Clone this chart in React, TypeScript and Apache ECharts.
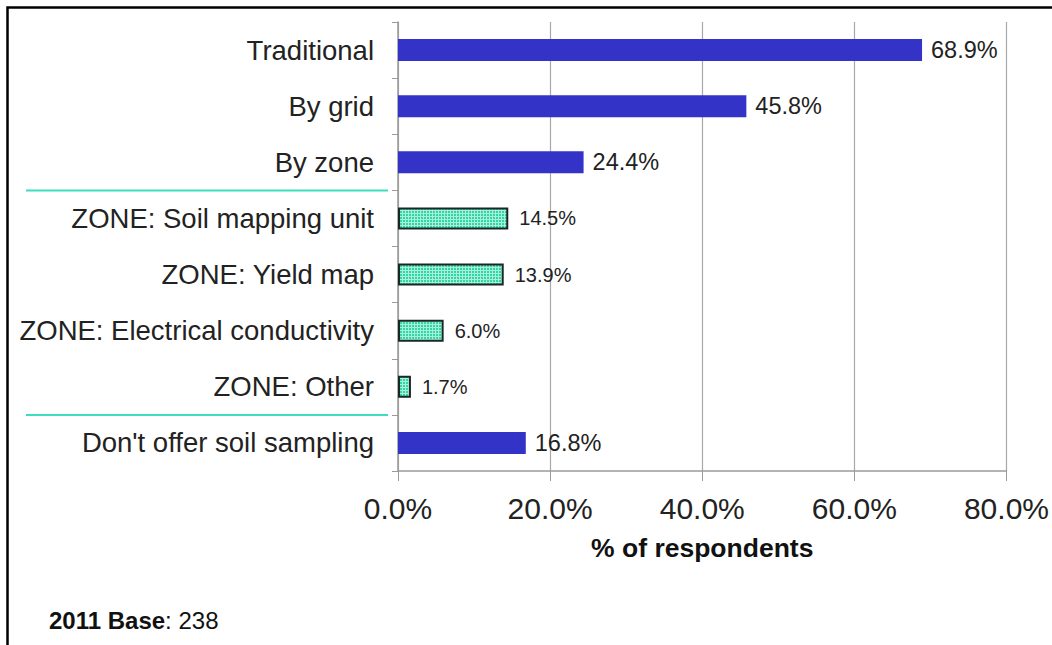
import React, { useEffect, useRef } from "react";
import * as echarts from "echarts";

const categories = [
  "Traditional",
  "By grid",
  "By zone",
  "ZONE: Soil mapping unit",
  "ZONE: Yield map",
  "ZONE: Electrical conductivity",
  "ZONE: Other",
  "Don't offer soil sampling",
];
const values = [68.9, 45.8, 24.4, 14.5, 13.9, 6.0, 1.7, 16.8];
const patterned = [false, false, false, true, true, true, true, false];
const xTicks = [0, 20, 40, 60, 80];
const axisTitle = "% of respondents";
const baseNoteYear = "2011 Base";
const baseNoteValue = ": 238";
const separatorsAfter = ["By zone", "ZONE: Other"];

const FONT = "'Liberation Sans', Arial, Helvetica, sans-serif";

function makePattern() {
  const c = document.createElement("canvas");
  c.width = 3;
  c.height = 3;
  const ctx = c.getContext("2d")!;
  ctx.fillStyle = "#2ED8A6";
  ctx.fillRect(0, 0, 3, 3);
  ctx.fillStyle = "rgba(255,255,255,0.6)";
  ctx.fillRect(0, 0, 3, 1);
  ctx.fillRect(0, 1, 1, 2);
  return c;
}

export default function App() {
  const ref = useRef<HTMLDivElement>(null);
  useEffect(() => {
    if (!ref.current) return;
    const chart = echarts.init(ref.current, undefined, { renderer: "svg" });
    const pattern = makePattern();
    const data = values.map((v, i) =>
      patterned[i]
        ? {
            value: v,
            itemStyle: {
              color: { image: pattern, repeat: "repeat" } as any,
              borderColor: "#1a2823",
              borderWidth: 2,
            },
            label: { fontSize: 20, distance: 11 },
          }
        : {
            value: v,
            itemStyle: { color: "#3333C8" },
            label: { fontSize: 23.5, distance: 9 },
          }
    );
    chart.setOption({
      animation: false,
      backgroundColor: "#ffffff",
      grid: { left: 398, right: 45, top: 22, bottom: 174 },
      xAxis: {
        type: "value",
        min: xTicks[0],
        max: xTicks[xTicks.length - 1],
        interval: 20,
        name: axisTitle,
        nameLocation: "middle",
        nameGap: 63,
        nameTextStyle: {
          fontFamily: FONT,
          fontSize: 26.5,
          fontWeight: "bold",
          color: "#111",
        },
        axisLine: { show: true, lineStyle: { color: "#9a9a9a", width: 1.5 } },
        axisTick: { show: true, length: 10, lineStyle: { color: "#9a9a9a" } },
        axisLabel: {
          fontFamily: FONT,
          fontSize: 30,
          color: "#222",
          margin: 22,
          formatter: (v: number) => v.toFixed(1) + "%",
        },
        splitLine: { show: true, lineStyle: { color: "#a8a8a8", width: 1.2 } },
      },
      yAxis: {
        type: "category",
        data: categories,
        inverse: true,
        axisLine: { show: true, lineStyle: { color: "#9a9a9a", width: 1.5 } },
        axisTick: { show: true, length: 6, lineStyle: { color: "#9a9a9a" } },
        axisLabel: {
          fontFamily: FONT,
          fontSize: 27.5,
          color: "#222",
          margin: 24,
        },
      },
      series: [
        {
          type: "bar",
          data,
          barWidth: 22,
          label: {
            show: true,
            position: "right",
            fontFamily: FONT,
            color: "#222",
            formatter: (p: any) => Number(p.value).toFixed(1) + "%",
          },
        },
      ],
    });

    const lines = separatorsAfter.map((name) => {
      const idx = categories.indexOf(name);
      const a = chart.convertToPixel({ yAxisIndex: 0 }, categories[idx]) as number;
      const b = chart.convertToPixel({ yAxisIndex: 0 }, categories[idx + 1]) as number;
      const y = (a + b) / 2;
      return {
        type: "line",
        shape: { x1: 26, y1: y, x2: 388, y2: y },
        style: { stroke: "#3FDDBE", lineWidth: 2 },
        silent: true,
      };
    });

    chart.setOption({
      graphic: [
        {
          type: "rect",
          shape: { x: 7.5, y: 7.5, width: 1200, height: 800 },
          style: { fill: "none", stroke: "#000", lineWidth: 2.5 },
          silent: true,
        },
        ...lines,
        {
          type: "text",
          left: 49,
          top: 608,
          style: {
            text: "{b|" + baseNoteYear + "}{n|" + baseNoteValue + "}",
            rich: {
              b: { fontFamily: FONT, fontSize: 24, fontWeight: "bold", fill: "#111" },
              n: { fontFamily: FONT, fontSize: 24, fill: "#111" },
            },
          } as any,
        },
      ],
    });
    return () => chart.dispose();
  }, []);
  return (
    <div
      ref={ref}
      style={{ position: "absolute", left: 0, top: 0, width: 1052, height: 645 }}
    />
  );
}
